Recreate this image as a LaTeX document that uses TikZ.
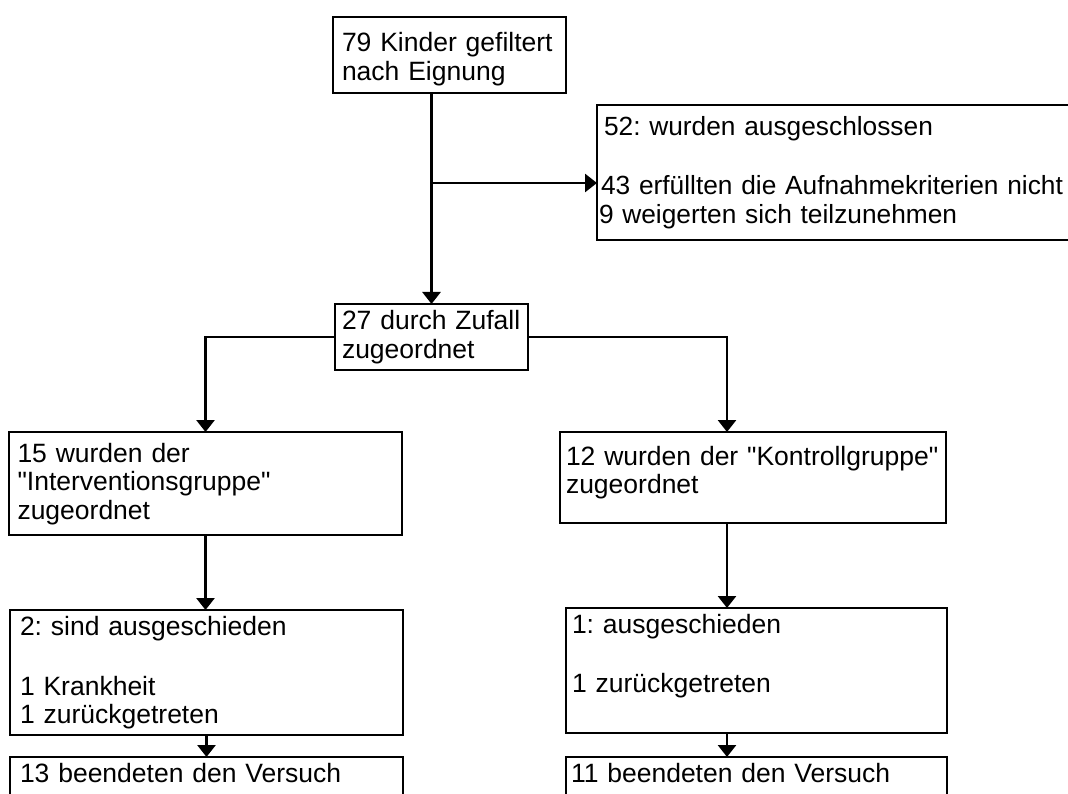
\documentclass[tikz,border=0pt]{standalone}
\usepackage{fontspec}
\setmainfont{Liberation Sans}
\frenchspacing
\usetikzlibrary{calc}
\usetikzlibrary{positioning}
\usetikzlibrary{arrows.meta}

\begin{document}
\begin{tikzpicture}[x=1pt,y=-1pt,font=\fontsize{26.5}{28.5}\selectfont,
      box style/.style={rectangle,draw=black,line width=2.8pt,outer sep=0pt,inner
        xsep=7pt,inner ysep=0pt,align=left},
      flow style/.style={line width=2.8pt,-{Triangle[width=18pt,length=12pt]}}
      ]
      \useasboundingbox (0,0) rectangle (1068,794);

      \node[box style, anchor=north west, inner xsep=9pt, text width=215pt, text height=35pt, text depth=41pt] (filter) at (333,17) {79 Kinder gefiltert\\nach Eignung};
      \node[box style, below right=88pt and 31pt of filter.north east, anchor=north west, inner xsep=2pt, font=\fontsize{26.3}{28.5}\selectfont, text width=479pt, text height=31pt, text depth=104pt] (excl) {\hspace*{5pt}52: wurden ausgeschlossen\\[30.5pt]\hspace*{2pt}43 erfüllten die Aufnahmekriterien nicht\\9 weigerten sich teilzunehmen};
      \node[box style, below=211pt of filter.south west, anchor=north west, xshift=2pt, text width=179pt, text height=26pt, text depth=40pt] (random) {27 durch Zufall\\zugeordnet};

      \coordinate (split) at ([yshift=121pt]random.north);
      \draw[flow style] (filter.south -| random.north) -- (random.north);
      \draw[flow style] (split) -- (split -| excl.west);

      \node[box style, anchor=north west, inner xsep=8.5pt, text width=376pt, text height=30pt, text depth=73pt] (interv) at (9,432) {15 wurden der\\\textquotedbl Interventionsgruppe\textquotedbl\\zugeordnet};
      \node[box style, right=158pt of interv.north east, anchor=north west, inner xsep=6pt, text width=374pt, text height=33pt, text depth=58pt] (kontroll) {\mbox{12 wurden der \textquotedbl Kontrollgruppe\textquotedbl}\\zugeordnet};
      \coordinate (rcol) at ([xshift=-26pt]kontroll.north);

      \draw[flow style] (random.west) -| (interv.north);
      \draw[flow style] (random.east) -| (rcol);

      \node[box style, below=75pt of interv.south west, anchor=north west, xshift=1pt, inner xsep=10pt, text width=373pt, text height=25pt, text depth=100pt] (dropI) {2: sind ausgeschieden\\[31.5pt]1 Krankheit\\1 zurückgetreten};
      \node[box style, below=85pt of kontroll.south west, anchor=north west, xshift=6pt, inner xsep=6pt, text width=369pt, text height=25pt, text depth=100pt] (dropK) {1: ausgeschieden\\[30.5pt]1 zurückgetreten};
      \draw[flow style] (interv.south) -- (interv.south |- dropI.north);
      \draw[flow style] (rcol |- kontroll.south) -- (rcol |- dropK.north);

      \node[box style, below=22pt of dropI.south west, anchor=north west, inner xsep=10pt, text width=373pt, text height=25pt, text depth=48pt] (endI) {13 beendeten den Versuch};
      \node[box style, below=24pt of dropK.south west, anchor=north west, inner xsep=5pt, text width=371pt, text height=25pt, text depth=48pt] (endK) {11 beendeten den Versuch};
      \draw[flow style] (dropI.south) -- (dropI.south |- endI.north);
      \draw[flow style] (rcol |- dropK.south) -- (rcol |- endK.north);
    \end{tikzpicture}
\end{document}
